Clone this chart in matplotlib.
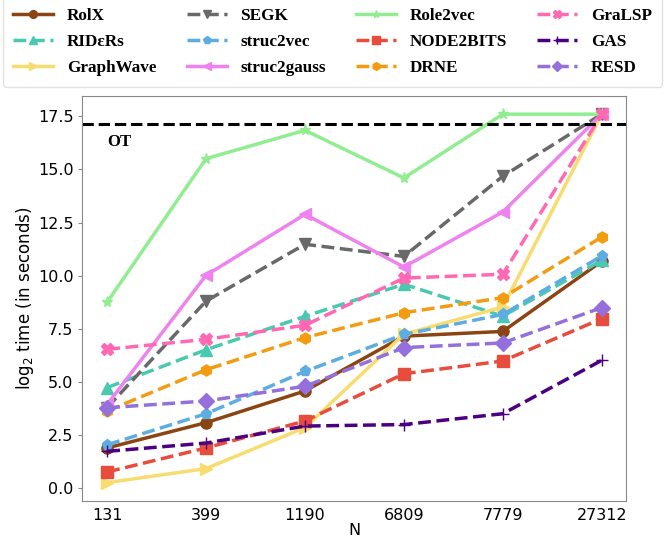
import matplotlib
matplotlib.use("Agg")
import matplotlib.pyplot as plt
import numpy as np

sizes = ["131", "399", "1190", "6809", "7779", "27312"]
methods = ["RolX", "RIDεRs", "GraphWave", "SEGK", "struc2vec", "struc2gauss",
           "Role2vec", "NODE2BITS", "DRNE", "GraLSP", "GAS", "RESD"]

rolx        = [1.90, 3.09, 4.58, 7.16, 7.38, 10.68]
riders      = [4.74, 6.52, 8.09, 9.60, 8.10, 10.72]
graphwave   = [0.27, 0.93, 2.86, 7.25, 8.53, 17.60]
segk        = [3.80, 8.81, 11.48, 10.91, 14.68, 17.60]
struc2vec   = [2.05, 3.51, 5.50, 7.24, 8.18, 10.93]
struc2gauss = [3.95, 10.02, 12.89, 10.41, 13.00, 17.60]
role2vec    = [8.76, 15.51, 16.84, 14.60, 17.60, 17.60]
node2bits   = [0.77, 1.90, 3.17, 5.39, 5.99, 7.98]
drne        = [3.64, 5.58, 7.09, 8.26, 8.97, 11.82]
gralsp      = [6.54, 7.01, 7.67, 9.89, 10.07, 17.60]
gas         = [1.74, 2.13, 2.93, 3.00, 3.51, 6.02]
resd        = [3.79, 4.11, 4.80, 6.62, 6.84, 8.50]
ot_level = 17.12

series = [rolx, riders, graphwave, segk, struc2vec, struc2gauss,
          role2vec, node2bits, drne, gralsp, gas, resd]
colors = ["#8B4513", "#48C9B0", "#F7DC6F", "#696969", "#5DADE2", "#EE82EE",
          "#90EE90", "#E74C3C", "#F39C12", "#FF69B4", "#4B0082", "#9370DB"]
markers = ["o", "^", ">", "v", "p", "<", "*", "s", "h", "X", "+", "D"]
styles = ["-", "--", "-", "--", "--", "-", "-", "--", "--", "--", "--", "--"]

fig = plt.figure(figsize=(6.65, 5.44), dpi=100)
ax = fig.add_axes([0.124, 0.079, 0.818, 0.745])
x = np.arange(len(sizes))
for name, vals, c, m, ls in zip(methods, series, colors, markers, styles):
    ax.plot(x, vals, color=c, marker=m, linestyle=ls, linewidth=2.5,
            markersize=8, label=name)
ax.axhline(ot_level, color="black", linestyle="--", linewidth=2.2)
ax.text(0.0, ot_level - 0.45, "OT", fontsize=12, fontweight="bold",
        family="Liberation Serif", va="top", ha="left")
ax.set_xlim(-0.25, len(sizes) - 0.75)
ax.set_xticks(x)
ax.set_xticklabels(sizes, fontsize=11.5)
ax.tick_params(axis="x", length=0, pad=5)
ax.tick_params(axis="y", labelsize=11.5, length=3, color="#888888")
ax.set_xlabel("N", fontsize=11.5, labelpad=0)
ax.set_ylabel(r"log$_2$ time (in seconds)", fontsize=12, labelpad=1)
for s in ax.spines.values():
    s.set_color("#888888")

leg = fig.legend(loc="upper left",
                 bbox_to_anchor=(3 / 665, 1 - 3 / 544, 659 / 665, 0.01),
                 mode="expand", ncol=4,
                 prop={"family": "Liberation Serif", "weight": "bold", "size": 12.3},
                 handlelength=2.35, handletextpad=0.8,
                 frameon=True, borderpad=0.6, labelspacing=0.6,
                 markerscale=0.7, borderaxespad=0)
leg.get_frame().set_edgecolor("#dddddd")

fig.savefig("out.png", dpi=100)
